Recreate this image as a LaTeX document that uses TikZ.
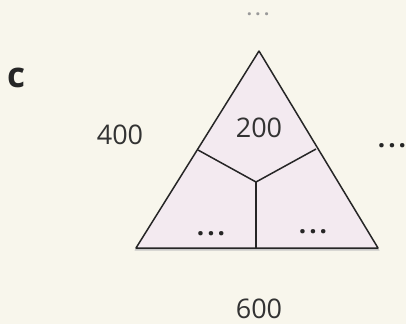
\documentclass[tikz,border=0pt]{standalone}
\usepackage{fontspec}
\setmainfont{Open Sans}
\newcommand{\tdots}[1]{.\kern#1.\kern#1.}
\begin{document}
\begin{tikzpicture}[x=1pt,y=-1pt,
  lbl/.style={inner sep=0pt, text=black!80, font=\fontsize{27}{30}\selectfont},
  dots/.style={inner sep=0pt, text=black!85, font=\fontsize{26}{28}\selectfont\bfseries},
  edge/.style={draw=black!85, line width=1.5pt, line join=round}]
\useasboundingbox (0,0) rectangle (406,324);
\fill[fill={rgb,255:red,248;green,246;blue,236}] (0,0) rectangle (406,324);
\coordinate (A) at (259,51);
\coordinate (L) at (136,248);
\coordinate (R) at (378,248);
\coordinate (M) at (256,182);
\coordinate (P) at (198,150);
\coordinate (Q) at (316,149);
\coordinate (B) at (256,248);
\fill[black!22] ([shift={(1,2)}]A) -- ([shift={(-1.5,2.5)}]L) -- ([shift={(1.5,2.5)}]R) -- cycle;
\path[edge, fill={rgb,255:red,243;green,234;blue,240}] (A) -- (L) -- (R) -- cycle;
\draw[edge] (P) -- (M) -- (Q);
\draw[edge] (M) -- (B);
\node[font=\fontsize{35}{36}\selectfont\bfseries, text=black!85, inner sep=0pt, anchor=base] (c) at (16,87) {c};
\node[lbl, anchor=base] (n400) at (120,144) {400};
\node[lbl, anchor=base] (n200) at (259,137) {200};
\node[lbl, anchor=base] (n600) at (259,318) {600};
\node[dots, anchor=base] (dr) at (392,147) {\tdots{3pt}};
\node[dots, text=black!40, font=\fontsize{18}{20}\selectfont\bfseries, anchor=base] (dt) at (258,16) {\tdots{3.5pt}};
\node[dots, anchor=base] (dl) at (211,235) {\tdots{3pt}};
\node[dots, anchor=base] (dbr) at (313,233) {\tdots{3pt}};
\end{tikzpicture}
\end{document}
